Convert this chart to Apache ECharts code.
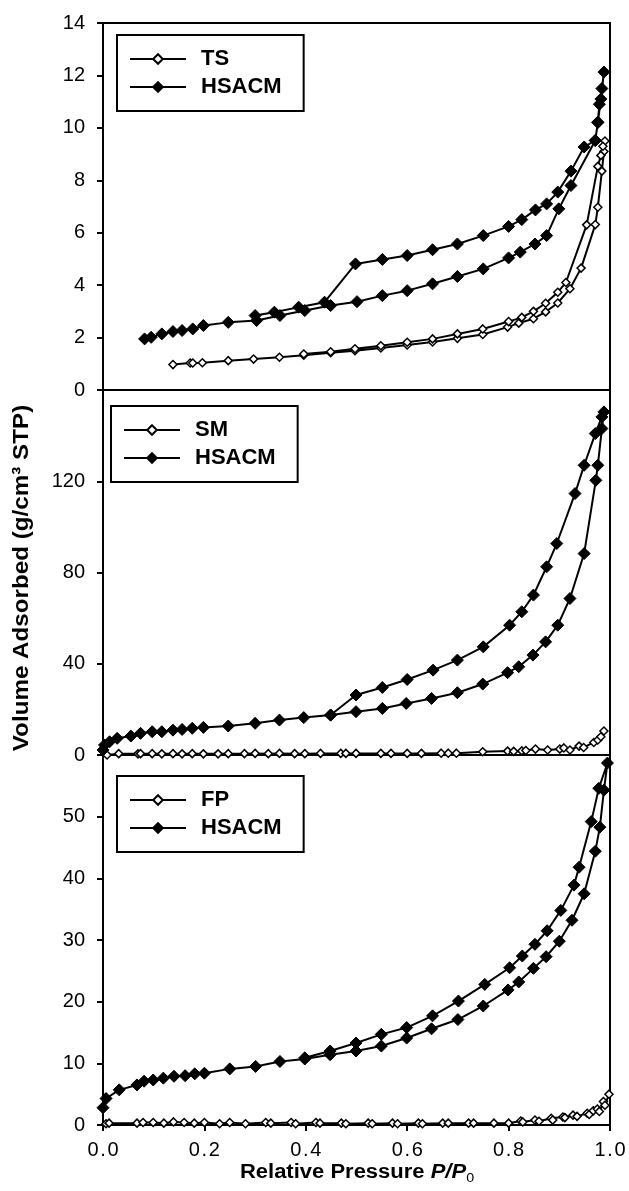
<!DOCTYPE html>
<html>
<head>
<meta charset="utf-8">
<script src="https://cdn.jsdelivr.net/npm/echarts@6/dist/echarts.min.js"></script>
<style>
html,body{margin:0;padding:0;background:#fff;}
#chart{width:629px;height:1191px;}
</style>
</head>
<body>
<div id="chart"></div>
<script>
// ---------- DATA ----------
const xTicks = [0.0, 0.2, 0.4, 0.6, 0.8, 1.0];
const panelNames = [['TS', 'HSACM'], ['SM', 'HSACM'], ['FP', 'HSACM']];

// Panel 1: TS (open) and HSACM (filled)
const tsX = [0.138,0.172,0.177,0.196,0.247,0.297,0.348,0.396,0.449,0.497,0.548,0.600,0.650,0.699,0.749,0.798,0.820,0.849,0.873,0.897,0.921,0.943,0.971,0.976,0.984,0.988,0.990,
             0.986,0.982,0.976,0.954,0.913,0.897,0.873,0.849,0.826,0.800,0.749,0.699,0.650,0.600,0.548,0.497,0.449,0.396];
const tsY = [0.97,1.03,1.03,1.04,1.12,1.18,1.25,1.33,1.42,1.50,1.60,1.72,1.83,1.97,2.12,2.40,2.55,2.72,2.98,3.32,3.86,4.65,6.31,6.97,8.35,9.10,9.50,
             9.30,8.95,8.53,6.30,4.10,3.73,3.31,3.00,2.77,2.61,2.33,2.14,1.95,1.82,1.69,1.57,1.46,1.37];
const hs1X = [0.082,0.095,0.116,0.138,0.156,0.177,0.198,0.247,0.303,0.349,0.398,0.449,0.501,0.551,0.600,0.650,0.699,0.750,0.800,0.823,0.852,0.875,0.899,0.923,0.971,0.976,0.982,0.988,
              0.984,0.979,0.976,0.971,0.949,0.923,0.897,0.875,0.853,0.826,0.800,0.750,0.699,0.650,0.600,0.551,0.498,0.437,0.386,0.338,0.300];
const hs1Y = [1.95,2.01,2.14,2.23,2.27,2.33,2.46,2.58,2.65,2.84,3.03,3.22,3.37,3.60,3.79,4.05,4.33,4.62,5.04,5.26,5.57,5.89,6.91,7.80,9.52,10.20,11.10,12.13,
              11.50,10.90,10.22,9.52,9.27,8.35,7.55,7.10,6.87,6.50,6.24,5.89,5.57,5.35,5.13,4.98,4.81,3.35,3.16,2.97,2.84];

// Panel 2: SM (open) and HSACM (filled)
const smX = [0.008,0.031,0.069,0.074,0.097,0.116,0.138,0.156,0.176,0.198,0.227,0.247,0.279,0.300,0.326,0.348,0.378,0.398,0.429,0.469,0.479,0.499,0.548,0.568,0.600,0.628,0.667,0.681,0.697,0.749,0.798,0.810,0.826,0.834,0.853,0.877,0.901,0.909,0.921,0.939,0.948,0.968,0.976,0.982,0.988];
const smY = [0.0,0.6,0.5,0.6,0.6,0.5,0.6,0.5,0.6,0.5,0.5,0.6,0.6,0.7,0.6,0.7,0.6,0.6,0.7,0.7,0.7,0.7,0.7,0.7,0.7,0.7,0.8,0.8,0.8,1.4,1.7,1.6,1.8,2.0,2.6,2.2,2.6,3.1,2.2,3.9,3.3,5.5,6.6,8.0,10.5];
const hs2X = [0.000,0.003,0.013,0.028,0.055,0.074,0.097,0.116,0.138,0.156,0.176,0.198,0.247,0.300,0.348,0.396,0.449,0.499,0.551,0.598,0.648,0.699,0.749,0.798,0.820,0.848,0.873,0.897,0.921,0.949,0.972,0.976,0.984,0.988,
              0.984,0.971,0.949,0.931,0.895,0.875,0.849,0.826,0.802,0.750,0.699,0.651,0.600,0.551,0.499,0.449];
const hs2Y = [2.2,4.4,5.8,7.3,8.3,9.5,10.2,10.2,10.9,11.2,11.7,12.1,12.7,13.9,15.3,16.4,17.5,19.0,20.4,22.6,24.8,27.3,31.1,36.1,38.7,43.8,49.6,56.9,68.6,88.3,120.4,127.0,143.1,150.4,
              148.2,140.9,127.0,114.6,92.7,82.5,70.1,62.8,56.9,47.4,41.6,37.2,33.1,29.6,26.3,17.5];

// Panel 3: FP (open) and HSACM (filled)
const fpX = [0.006,0.012,0.067,0.079,0.099,0.120,0.139,0.160,0.180,0.200,0.230,0.250,0.281,0.321,0.331,0.371,0.380,0.420,0.428,0.470,0.479,0.523,0.531,0.571,0.581,0.622,0.630,0.670,0.681,0.721,0.731,0.771,0.800,0.824,0.828,0.852,0.860,0.884,0.887,0.907,0.911,0.927,0.935,0.955,0.959,0.967,0.975,0.979,0.987,0.990,0.998];
const fpY = [0.2,0.3,0.3,0.4,0.4,0.3,0.5,0.4,0.3,0.4,0.2,0.4,0.2,0.4,0.3,0.4,0.2,0.4,0.3,0.3,0.2,0.3,0.2,0.3,0.2,0.3,0.2,0.3,0.3,0.3,0.3,0.3,0.3,0.65,0.5,0.8,0.6,1.1,0.8,1.3,1.2,1.6,1.4,1.9,1.7,2.3,2.6,2.2,3.8,3.2,5.0];
const hs3X = [0.000,0.006,0.032,0.067,0.081,0.099,0.119,0.140,0.162,0.181,0.200,0.250,0.301,0.349,0.398,0.448,0.499,0.549,0.599,0.648,0.700,0.750,0.799,0.820,0.849,0.874,0.900,0.925,0.949,0.971,0.980,0.988,0.995,
              0.978,0.963,0.939,0.929,0.903,0.876,0.852,0.827,0.802,0.753,0.701,0.650,0.599,0.549,0.499,0.448,0.398];
const hs3Y = [2.8,4.3,5.7,6.5,7.1,7.3,7.6,7.9,8.0,8.3,8.4,9.1,9.5,10.3,10.7,11.4,12.0,12.8,14.1,15.6,17.1,19.3,21.9,23.2,25.4,27.3,29.8,33.2,37.5,44.4,48.3,54.3,58.7,
              54.6,49.2,41.8,38.9,34.8,31.5,29.3,27.4,25.5,22.8,20.1,17.7,15.8,14.7,13.3,12.0,10.9];

const yRanges = [{min:0,max:14,interval:2},{min:0,max:160,interval:40},{min:0,max:60,interval:10}];
const hideYLabel = [null, 160, 60];

// ---------- LAYOUT ----------
const PL = 103, PW = 507;
const grids = [{top:23,height:367},{top:390,height:365},{top:755,height:370}];
const FONT = '"Liberation Sans", Arial, sans-serif';

function zip(xs, ys){ return xs.map((x,i)=>[x, ys[i]]); }

const openSeries = [zip(tsX,tsY), zip(smX,smY), zip(fpX,fpY)];
const fillSeries = [zip(hs1X,hs1Y), zip(hs2X,hs2Y), zip(hs3X,hs3Y)];

const option = {
  animation:false,
  backgroundColor:'#fff',
  grid: grids.map(g=>({left:PL, width:PW, top:g.top, height:g.height, show:true, borderColor:'#000', borderWidth:2, containLabel:false})),
  xAxis: grids.map((g,i)=>({
    type:'value', gridIndex:i, min:0, max:1, interval:0.2,
    axisLine:{show:true, lineStyle:{color:'#000', width:2}},
    axisTick:{show:i===2, length:6, lineStyle:{color:'#000', width:2}},
    axisLabel:{show:i===2, margin:15, color:'#000', fontSize:20, fontFamily:FONT,
      formatter:v=>v.toFixed(1).split('').join('\u200A')},
    splitLine:{show:false}
  })),
  yAxis: grids.map((g,i)=>({
    type:'value', gridIndex:i, min:yRanges[i].min, max:yRanges[i].max, interval:yRanges[i].interval,
    axisLine:{show:true, lineStyle:{color:'#000', width:2}},
    axisTick:{show:true, length:6, lineStyle:{color:'#000', width:2}},
    axisLabel:{show:true, margin:18, color:'#000', fontSize:20, fontFamily:FONT,
      formatter:v=> (hideYLabel[i]!==null && v===hideYLabel[i]) ? '' : String(v)},
    splitLine:{show:false}
  })),
  legend: [
    {left:117, top:35, data:['TS','HSACM 1']},
    {left:111, top:406, data:['SM','HSACM 2']},
    {left:117, top:776, data:['FP','HSACM 3']}
  ].map(l=>({
    left:l.left, top:l.top, orient:'vertical', data:l.data,
    borderColor:'#000', borderWidth:2, padding:[13,22,13,12],
    itemWidth:56, itemHeight:12, itemGap:6,
    textStyle:{fontSize:22, fontWeight:'bold', color:'#000', fontFamily:FONT, padding:[0,0,0,10]},
    formatter:n=>n.replace(/ \d$/,''),
    inactiveColor:'#000'
  })),
  series: []
};

for (let i=0;i<3;i++){
  option.series.push({
    name: panelNames[i][0], type:'line', xAxisIndex:i, yAxisIndex:i,
    data: openSeries[i], symbol:'diamond', symbolSize:8, showAllSymbol:true,
    lineStyle:{color:'#000', width:2}, itemStyle:{color:'#fff', borderColor:'#000', borderWidth:1.5},
    z:3
  });
  option.series.push({
    name: 'HSACM ' + (i+1), type:'line', xAxisIndex:i, yAxisIndex:i,
    data: fillSeries[i], symbol:'diamond', symbolSize:12, showAllSymbol:true,
    lineStyle:{color:'#000', width:2}, itemStyle:{color:'#000', borderColor:'#000', borderWidth:1},
    z:4
  });
}

option.graphic = [
  {type:'text', x:22, y:578, rotation:Math.PI/2, scaleX:1.1,
   style:{text:'Volume Adsorbed (g/cm³ STP)', fill:'#000', font:'bold 22px ' + FONT, align:'center', verticalAlign:'middle'}},
  {type:'text', x:357, y:1172, scaleX:1.1,
   style:{text:'{a|Relative Pressure }{b|P/P}{c|0}', align:'center', verticalAlign:'middle',
     rich:{
       a:{fontSize:20, fontWeight:'bold', fontFamily:FONT, fill:'#000', color:'#000'},
       b:{fontSize:20, fontWeight:'bold', fontStyle:'italic', fontFamily:FONT, fill:'#000', color:'#000'},
       c:{fontSize:13, fontWeight:'normal', fontFamily:FONT, fill:'#000', color:'#000', padding:[13,0,0,0]}
     }}}
];

const chart = echarts.init(document.getElementById('chart'), null, {renderer:'canvas'});
chart.setOption(option);
</script>
</body>
</html>
